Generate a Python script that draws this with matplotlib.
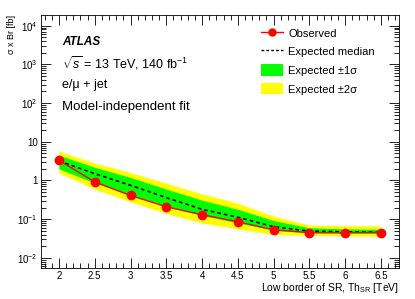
import matplotlib
matplotlib.use("Agg")
import matplotlib.pyplot as plt
import numpy as np
from matplotlib.lines import Line2D
from matplotlib.patches import Patch
from matplotlib.ticker import FixedLocator, LogLocator, NullFormatter

plt.rcParams['font.family'] = ['Liberation Sans', 'DejaVu Sans']
plt.rcParams['mathtext.fontset'] = 'custom'
plt.rcParams['mathtext.rm'] = 'Liberation Sans'
plt.rcParams['mathtext.it'] = 'Liberation Sans:italic'

# threshold of the signal region [TeV]
th_sr = [2.0, 2.5, 3.0, 3.5, 4.0, 4.5, 5.0, 5.5, 6.0, 6.5]
observed = [3.3, 0.92, 0.41, 0.21, 0.13, 0.086, 0.053, 0.045, 0.045, 0.045]
expected = [3.2, 1.5, 0.75, 0.36, 0.18, 0.112, 0.064, 0.049, 0.047, 0.046]
exp_p1 = [4.5, 2.2, 1.2, 0.60, 0.31, 0.18, 0.092, 0.060, 0.056, 0.055]
exp_m1 = [2.0, 0.86, 0.42, 0.21, 0.125, 0.080, 0.052, 0.044, 0.043, 0.043]
exp_p2 = [5.7, 2.84, 1.6, 0.85, 0.45, 0.26, 0.12, 0.070, 0.068, 0.067]
exp_m2 = [1.56, 0.60, 0.28, 0.14, 0.080, 0.056, 0.040, 0.038, 0.037, 0.036]

x_ticks = [2, 2.5, 3, 3.5, 4, 4.5, 5, 5.5, 6, 6.5]
x_tick_labels = ['2', '2.5', '3', '3.5', '4', '4.5', '5', '5.5', '6', '6.5']
y_ticks = [1e-2, 1e-1, 1, 10, 1e2, 1e3, 1e4]
y_tick_labels = ['$10^{-2}$', '$10^{-1}$', '1', '10', '$10^{2}$', '$10^{3}$', '$10^{4}$']

fig = plt.figure(figsize=(4.15, 2.99), dpi=100)
ax = fig.add_axes([0.099, 0.104, 0.862, 0.846])

ax.fill_between(th_sr, exp_m2, exp_p2, color='#ffff00', lw=0)
ax.fill_between(th_sr, exp_m1, exp_p1, color='#00ff00', lw=0)
ax.plot(th_sr, expected, color='black', ls=(0, (2.2, 1.8)), lw=1.2)
ax.plot(th_sr, observed, color='red', lw=1.0, marker='o', ms=6)

ax.set_yscale('log')
ax.set_xlim(1.75, 6.75)
ax.set_ylim(5.5e-3, 1.9e4)

ax.set_xticks(x_ticks)
ax.set_xticklabels(x_tick_labels, fontsize=7)
ax.xaxis.set_minor_locator(FixedLocator(np.arange(1.8, 6.75, 0.1)))
ax.set_yticks(y_ticks)
ax.set_yticklabels(y_tick_labels, fontsize=7)
ax.yaxis.set_minor_locator(LogLocator(base=10, subs=np.arange(2, 10), numticks=20))
ax.yaxis.set_minor_formatter(NullFormatter())
ax.tick_params(which='both', direction='in', top=True, right=True)
ax.tick_params(which='major', length=7, width=0.6, pad=2.5)
ax.tick_params(which='minor', length=3.5, width=0.6)
for s in ax.spines.values():
    s.set_linewidth(0.6)

ax.set_xlabel('Low border of SR, Th$_{\\mathregular{SR}}$ [TeV]', fontsize=7.5,
              loc='right', labelpad=0)
ax.set_ylabel('σ x Br [fb]', fontsize=6.5, loc='top', labelpad=0.5)

ax.text(0.058, 0.895, 'ATLAS', transform=ax.transAxes, fontsize=8.5,
        fontweight='bold', fontstyle='italic', va='center')
ax.text(0.058, 0.808, '$\\sqrt{s}$ = 13 TeV, 140 fb$^{-1}$', transform=ax.transAxes,
        fontsize=9, va='center')
ax.text(0.058, 0.722, 'e/μ + jet', transform=ax.transAxes, fontsize=9, va='center')
ax.text(0.058, 0.636, 'Model-independent fit', transform=ax.transAxes, fontsize=9.5,
        va='center')

handles = [
    Line2D([], [], color='red', marker='o', ms=5, lw=1.0),
    Line2D([], [], color='black', ls=(0, (2, 1.5)), lw=1.0),
    Patch(facecolor='#00ff00', edgecolor='none'),
    Patch(facecolor='#ffff00', edgecolor='none'),
]
labels = ['Observed', 'Expected median', 'Expected ±1σ', 'Expected ±2σ']
ax.legend(handles, labels, loc='upper left', bbox_to_anchor=(0.615, 0.952),
          frameon=False, fontsize=8, handlelength=2.0, handleheight=1.2,
          labelspacing=0.65, handletextpad=0.45, borderpad=0, borderaxespad=0)

fig.savefig('out.png', dpi=100)
